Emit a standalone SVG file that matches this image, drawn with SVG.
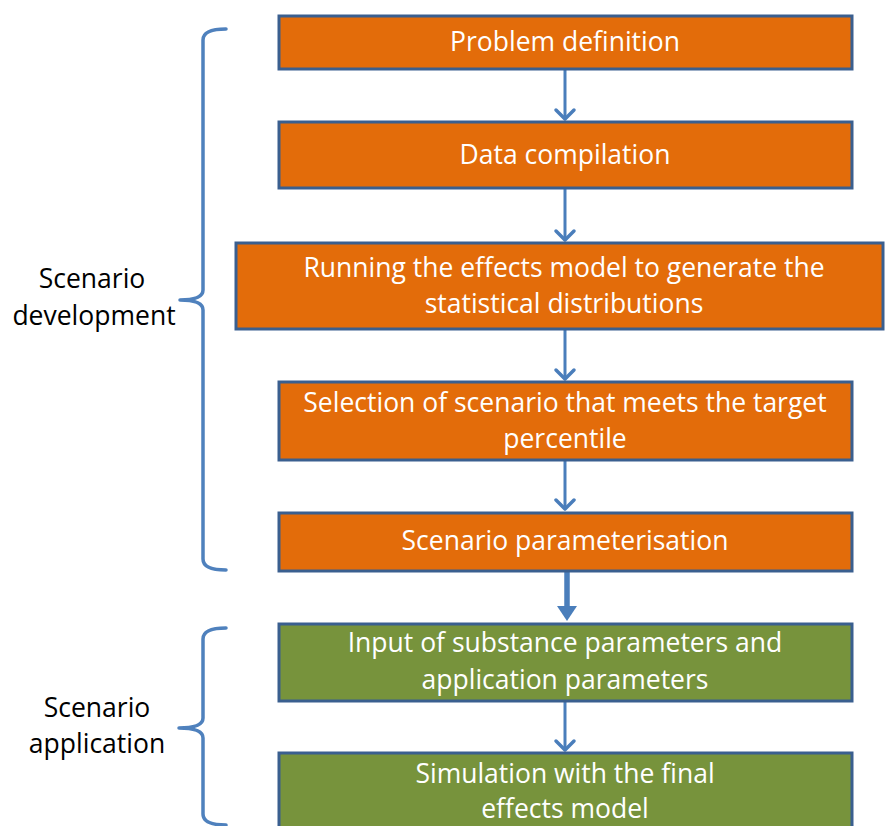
<svg xmlns="http://www.w3.org/2000/svg" width="885" height="826" viewBox="0 0 885 826">
  <defs>
    <style>
      .box { stroke: #3A5F8F; stroke-width: 3; }
      .orange { fill: #E36C0A; }
      .green { fill: #77933C; }
      .label { font-family: "Open Sans", "Liberation Sans", sans-serif; font-size: 26.5px; fill: #FFFFFF; text-anchor: middle; }
      .side { font-family: "Open Sans", "Liberation Sans", sans-serif; font-size: 26.5px; fill: #000000; text-anchor: middle; }
      .brace { fill: none; stroke: #4F81BD; stroke-width: 3.5; stroke-linecap: round; stroke-linejoin: round; }
      .flow { fill: none; stroke: #4A7EBB; stroke-width: 3; }
      .head { fill: none; stroke: #4A7EBB; stroke-width: 3.5; stroke-linecap: round; stroke-linejoin: round; }
    </style>
  </defs>
  <rect width="885" height="826" fill="#FFFFFF"/>

  <!-- braces grouping the two phases -->
  <g id="phase-development">
    <path class="brace" d="M226,29 Q203,29 203,40 L203,290 Q203,300 180,300 Q203,300 203,310 L203,559 Q203,570 226,570"/>
    <text class="side" x="92" y="288">Scenario</text>
    <text class="side" x="94" y="325">development</text>
  </g>
  <g id="phase-application">
    <path class="brace" d="M226,628 Q203,628 203,639 L203,718 Q203,728 179,728 Q203,728 203,738 L203,814 Q203,825 226,825"/>
    <text class="side" x="97" y="717">Scenario</text>
    <text class="side" x="97" y="753">application</text>
  </g>

  <!-- connectors -->
  <g id="connectors">
    <line class="flow" x1="565" y1="70" x2="565" y2="119"/>
    <path class="head" d="M556,110 L565,119 L574,110"/>
    <line class="flow" x1="565" y1="189" x2="565" y2="240"/>
    <path class="head" d="M556,231 L565,240 L574,231"/>
    <line class="flow" x1="565" y1="330" x2="565" y2="379"/>
    <path class="head" d="M556,370 L565,379 L574,370"/>
    <line class="flow" x1="565" y1="461" x2="565" y2="509"/>
    <path class="head" d="M556,500 L565,509 L574,500"/>
    <line x1="567" y1="572" x2="567" y2="608" stroke="#4A7EBB" stroke-width="5.5"/>
    <path d="M557,606 L577,606 L567,621 Z" fill="#4A7EBB"/>
    <line class="flow" x1="565" y1="701" x2="565" y2="750"/>
    <path class="head" d="M556,741 L565,750 L574,741"/>
  </g>

  <!-- process steps -->
  <g id="problem-definition">
    <rect class="box orange" x="279" y="16" width="573" height="53"/>
    <text class="label" x="565" y="51">Problem definition</text>
  </g>
  <g id="data-compilation">
    <rect class="box orange" x="279" y="122" width="573" height="66"/>
    <text class="label" x="565" y="164">Data compilation</text>
  </g>
  <g id="effects-model-run">
    <rect class="box orange" x="236" y="243" width="647" height="86"/>
    <text class="label" x="564" y="277">Running the effects model to generate the</text>
    <text class="label" x="564" y="313">statistical distributions</text>
  </g>
  <g id="scenario-selection">
    <rect class="box orange" x="279" y="382" width="573" height="78"/>
    <text class="label" x="565" y="412">Selection of scenario that meets the target</text>
    <text class="label" x="565" y="448">percentile</text>
  </g>
  <g id="scenario-parameterisation">
    <rect class="box orange" x="279" y="513" width="573" height="58"/>
    <text class="label" x="565" y="550">Scenario parameterisation</text>
  </g>
  <g id="parameter-input">
    <rect class="box green" x="279" y="624" width="573" height="77"/>
    <text class="label" x="565" y="652">Input of substance parameters and</text>
    <text class="label" x="565" y="689">application parameters</text>
  </g>
  <g id="final-simulation">
    <rect class="box green" x="279" y="753" width="573" height="90"/>
    <text class="label" x="565" y="783">Simulation with the final</text>
    <text class="label" x="565" y="818">effects model</text>
  </g>
</svg>
